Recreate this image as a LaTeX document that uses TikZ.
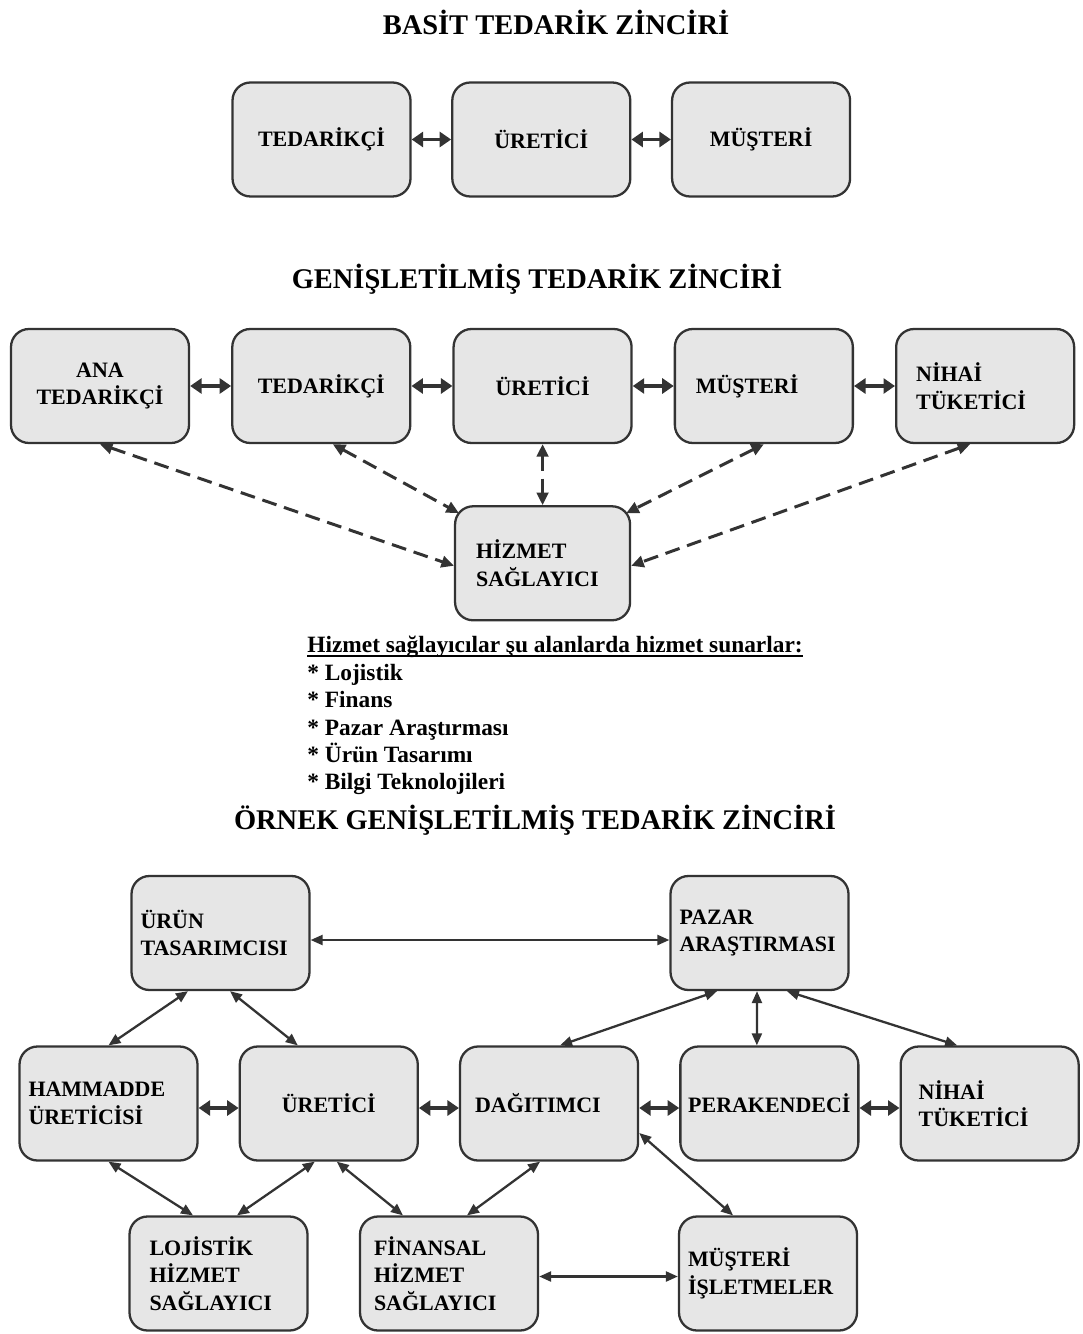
\documentclass[tikz,border=0pt]{standalone}
\usepackage{fontspec}
\setmainfont{Liberation Serif}
\usepackage{tikz}
\usetikzlibrary{arrows.meta, positioning}
\definecolor{boxfill}{HTML}{E6E6E6}
\definecolor{boxline}{HTML}{333333}
\newcommand\lineunder[1]{\setbox0\hbox{#1}\rlap{\rule[-2.2pt]{\wd0}{0.8pt}}\box0}
\tikzset{
    firm/.style={
        rectangle, draw=boxline, fill=boxfill,
        minimum width=3.56cm, minimum height=2.28cm,
        align=center, rounded corners=0.36cm,
        font=\fontsize{12.5}{15.6}\selectfont\bfseries, line width=1.3pt,
    },
    lefttext/.style={align=left, text width=#1},
    heading/.style={
        inner sep=0pt, font=\fontsize{16.2}{19}\selectfont\bfseries,
    },
    link/.style={{Triangle[length=2.3mm,width=3mm]}-{Triangle[length=2.3mm,width=3mm]}, line width=2pt, draw=boxline},
    dlink/.style={{Triangle[length=2.5mm,width=2.3mm]}-{Triangle[length=2.5mm,width=2.3mm]}, line width=1.7pt, draw=boxline, dash pattern=on 8.5pt off 4.5pt},
    flow/.style={{Triangle[length=2.4mm,width=2mm]}-{Triangle[length=2.4mm,width=2mm]}, line width=1.3pt, draw=boxline},
}
\begin{document}
\begin{tikzpicture}
    \useasboundingbox (0,0) rectangle (21.66,-26.68);

    \node[heading] (t1) at (11.12,-0.44) {BASİT TEDARİK ZİNCİRİ};
    \node[firm] (ted1) at (6.43,-2.79) {TEDARİKÇİ};
    \node[firm, right=0.79cm of ted1] (ure1) {ÜRETİCİ};
    \node[firm, right=0.79cm of ure1] (mus1) {MÜŞTERİ};

    \node[heading] (t2) at (10.74,-5.58) {GENİŞLETİLMİŞ TEDARİK ZİNCİRİ};
    \node[firm] (ana) at (2.0,-7.72) {ANA\\TEDARİKÇİ};
    \node[firm, right=0.82cm of ana] (ted2) {TEDARİKÇİ};
    \node[firm, right=0.82cm of ted2] (ure2) {ÜRETİCİ};
    \node[firm, right=0.82cm of ure2, lefttext=2.72cm] (mus2) {MÜŞTERİ};
    \node[firm, right=0.82cm of mus2, lefttext=2.76cm] (nih2) {NİHAİ\\TÜKETİCİ};
    \node[firm, below=1.22cm of ure2, minimum width=3.5cm, lefttext=2.66cm] (hiz) {HİZMET\\SAĞLAYICI};

    \node[anchor=north west, inner sep=0pt, align=left,
          font=\fontsize{13.3}{15.6}\selectfont\bfseries] (areas) at (6.14,-12.72)
        {\lineunder{Hizmet sağlayıcılar şu alanlarda hizmet sunarlar:}\\
         * Lojistik\\
         * Finans\\
         * Pazar Araştırması\\
         * Ürün Tasarımı\\
         * Bilgi Teknolojileri};

    \node[heading] (t3) at (10.70,-16.4) {ÖRNEK GENİŞLETİLMİŞ TEDARİK ZİNCİRİ};
    \node[firm, lefttext=3.2cm] (tas) at (4.41,-18.66) {ÜRÜN\\TASARIMCISI};
    \node[firm, lefttext=3.2cm] (pazar) at (15.19,-18.66) {PAZAR\\ARAŞTIRMASI};
    \node[firm, lefttext=3.2cm] (ham) at (2.17,-22.07) {HAMMADDE\\ÜRETİCİSİ};
    \node[firm, right=0.8cm of ham] (ure3) {ÜRETİCİ};
    \node[firm, right=0.8cm of ure3, lefttext=2.96cm] (dag) {DAĞITIMCI};
    \node[firm, right=0.8cm of dag] (per) {PERAKENDECİ};
    \node[firm, right=0.8cm of per, lefttext=2.84cm] (nih3) {NİHAİ\\TÜKETİCİ};
    \node[firm, lefttext=2.76cm] (loj) at (4.37,-25.47) {LOJİSTİK\\HİZMET\\SAĞLAYICI};
    \node[firm, lefttext=3.0cm] (fin) at (8.98,-25.47) {FİNANSAL\\HİZMET\\SAĞLAYICI};
    \node[firm, lefttext=3.2cm] (mis) at (15.36,-25.47) {MÜŞTERİ\\İŞLETMELER};

    \draw[link] (ted1) -- (ure1);
    \draw[link] (ure1) -- (mus1);

    \draw[link] (ana) -- (ted2);
    \draw[link] (ted2) -- (ure2);
    \draw[link] (ure2) -- (mus2);
    \draw[link] (mus2) -- (nih2);
    \draw[dlink] (ana.south) -- ([yshift=-0.05cm]hiz.west);
    \draw[dlink] ([xshift=0.23cm]ted2.south) -- ([shift={(0.1cm,-0.16cm)}]hiz.north west);
    \draw[dlink] (ure2.south -| hiz.north) -- (hiz.north);
    \draw[dlink] (mus2.south) -- ([shift={(-0.1cm,-0.16cm)}]hiz.north east);
    \draw[dlink] ([xshift=-0.3cm]nih2.south) -- ([yshift=-0.05cm]hiz.east);

    \draw[flow] ([yshift=-0.14cm]tas.east) -- ([yshift=-0.14cm]pazar.west);
    \draw[flow] ([xshift=-0.65cm]tas.south) -- (ham.north);
    \draw[flow] ([xshift=0.19cm]tas.south) -- ([xshift=-0.62cm]ure3.north);
    \draw[flow] ([xshift=-0.85cm]pazar.south) -- ([xshift=0.22cm]dag.north);
    \draw[flow] ([xshift=-0.05cm]pazar.south) -- ([xshift=-0.25cm]per.north);
    \draw[flow] ([xshift=0.55cm]pazar.south) -- ([xshift=-0.65cm]nih3.north);
    \draw[link] ([yshift=-0.09cm]ham.east) -- ([yshift=-0.09cm]ure3.west);
    \draw[link] ([yshift=-0.09cm]ure3.east) -- ([yshift=-0.09cm]dag.west);
    \draw[link] ([yshift=-0.09cm]dag.east) -- ([yshift=-0.09cm]per.west);
    \draw[link] ([yshift=-0.09cm]per.east) -- ([yshift=-0.09cm]nih3.west);
    \draw[flow] (ham.south) -- ([xshift=-0.51cm]loj.north);
    \draw[flow] ([xshift=-0.28cm]ure3.south) -- ([xshift=0.37cm]loj.north);
    \draw[flow] ([xshift=0.16cm]ure3.south) -- ([xshift=-0.92cm]fin.north);
    \draw[flow] ([xshift=-0.18cm]dag.south) -- ([xshift=0.36cm]fin.north);
    \draw[flow] ([yshift=-0.59cm]dag.east) -- ([xshift=-0.7cm]mis.north);
    \draw[flow] ([yshift=-0.06cm]fin.east) -- ([yshift=-0.06cm]mis.west);

\end{tikzpicture}
\end{document}
